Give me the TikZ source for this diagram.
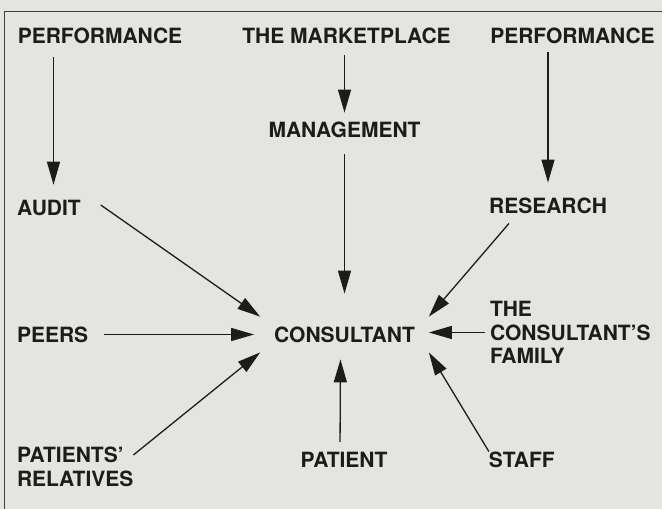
\documentclass[tikz,border=0pt]{standalone}
\usepackage{fontspec}
\setmainfont{TeX Gyre Heros}
\usetikzlibrary{arrows.meta}
\definecolor{paper}{RGB}{228,228,224}
\definecolor{ink}{RGB}{28,28,28}
\tikzset{
	lbl/.style={font=\bfseries\fontsize{21}{23.5}\selectfont, text=ink, inner sep=0pt, outer sep=0pt, align=left},
	arr/.style={draw=ink, line width=1.3pt, -{Triangle[length=23pt,width=13pt]}}
}

\begin{document}
\begin{tikzpicture}[x=1pt, y=-1pt]
		%%%%% START %%%%%
		\fill[paper] (0, 0) rectangle (662, 509);
		\useasboundingbox (0, 0) rectangle (662, 509);
		\draw[ink!85, line width=1.5pt] (662, 11.5) -- (4.7, 11.5) -- (4.7, 509);
		
		\node[lbl] (perfL) at (100, 35.5) {PERFORMANCE};
		\node[lbl] (market) at (346.5, 35.5) {THE MARKETPLACE};
		\node[lbl] (perfR) at (572.5, 35.5) {PERFORMANCE};
		\node[lbl] (mgmt) at (344.5, 130) {MANAGEMENT};
		\node[lbl] (audit) at (49, 207.5) {AUDIT};
		\node[lbl] (research) at (548, 206) {RESEARCH};
		\node[lbl] (peers) at (52.6, 334.5) {PEERS};
		\node[lbl, inner xsep=14pt, inner ysep=10pt] (hub) at (344.5, 334.5) {CONSULTANT};
		\node[lbl, anchor=west] (family) at (490, 332.5) {THE\\CONSULTANT’S\\FAMILY};
		\node[lbl, anchor=west] (patrel) at (17, 466.75) {PATIENTS’\\RELATIVES};
		\node[lbl] (patient) at (344, 460) {PATIENT};
		\node[lbl] (staff) at (521.8, 459.5) {STAFF};
		
		\draw[arr, shorten <=14pt, shorten >=15pt] ([xshift=4.5pt]audit.north |- perfL.south) -- ([xshift=4.5pt]audit.north);
		\draw[arr, shorten <=12pt, shorten >=9.5pt] (mgmt.north |- market.south) -- (mgmt.north);
		\draw[arr, shorten <=9pt, shorten >=15.5pt] (research.north |- perfR.south) -- (research.north);
		\draw[arr, shorten <=16.5pt, shorten >=23pt] (mgmt.south) -- (hub.north);
		
		\draw[arr] ([xshift=20pt, yshift=2.5pt]audit.east) -- (hub.north west);
		\draw[arr] ([xshift=-39pt, yshift=-9.5pt]research.south) -- (hub.north east);
		\draw[arr, shorten <=16pt, shorten >=6pt] (peers.east) -- (hub.west);
		\draw[arr, shorten <=5pt] (family.west) -- (family.west -| hub.east);
		\draw[arr] ([yshift=11.75pt]patrel.east) -- (hub.south west);
		\draw[arr, shorten <=10.5pt, shorten >=7pt] ([xshift=-4pt]patient.north) -- ([xshift=-4pt]hub.south);
		\draw[arr] (staff.north west) -- (hub.south east);
		%%%%% END %%%%%
\end{tikzpicture}
\end{document}
